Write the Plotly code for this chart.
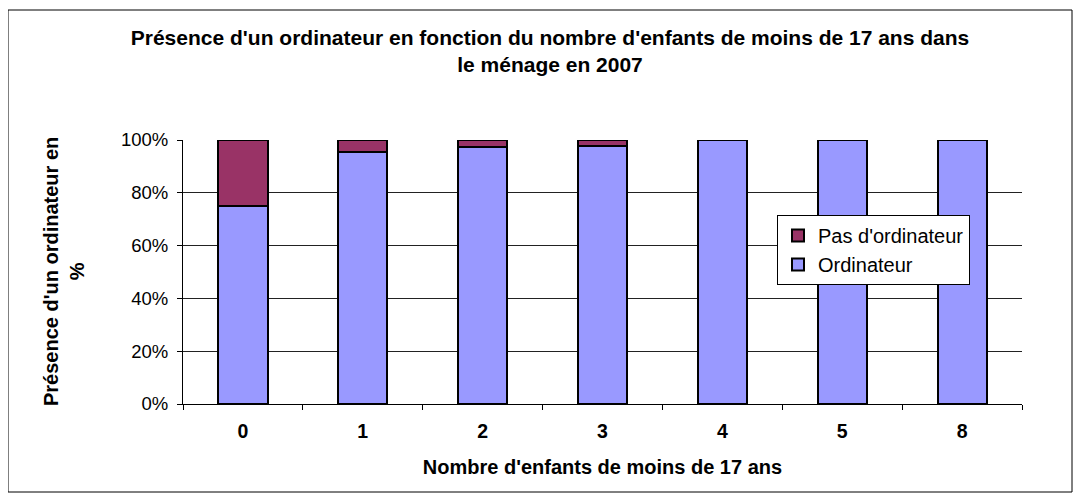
import plotly.graph_objects as go

categories = ["0", "1", "2", "3", "4", "5", "8"]
ordinateur = [75.0, 95.5, 97.5, 97.7, 100.0, 100.0, 100.0]
pas_ordinateur = [25.0, 4.5, 2.5, 2.3, 0.0, 0.0, 0.0]
y_ticks = [0, 20, 40, 60, 80, 100]
y_tick_labels = ["0%", "20%", "40%", "60%", "80%", "100%"]

OFF = 8  # page body margin
W, H = 1081 - OFF, 502 - OFF
L, R, T, B = 183 - OFF, 1022 - OFF, 140 - OFF, 404 - OFF

fig = go.Figure()
fig.add_trace(go.Bar(x=categories, y=ordinateur, name="Ordinateur",
                     marker=dict(color="#9999FF", line=dict(color="black", width=2))))
fig.add_trace(go.Bar(x=categories, y=pas_ordinateur, name="Pas d'ordinateur",
                     marker=dict(color="#993366", line=dict(color="black", width=2))))

font = "Liberation Sans, Arial, sans-serif"
fig.update_layout(
    width=W, height=H,
    margin=dict(l=L, r=W - R, t=T, b=H - B, autoexpand=False),
    paper_bgcolor="white", plot_bgcolor="white",
    barmode="stack", bargap=0.59,
    font=dict(family=font, size=20, color="black"),
    title=dict(text="<b>Présence d'un ordinateur en fonction du nombre d'enfants de moins de 17 ans dans<br>le ménage en 2007</b>",
               x=(550 - OFF) / W, xanchor="center", y=1 - 37 / H, yanchor="top",
               font=dict(size=21)),
    showlegend=True,
    legend=dict(traceorder="reversed", x=(777 - 183) / (R - L), xanchor="left",
                y=(404 - 215) / (B - T), yanchor="top",
                bgcolor="white", bordercolor="black", borderwidth=1,
                font=dict(size=20), itemsizing="constant", tracegroupgap=0),
    xaxis=dict(type="category", tickson="boundaries", ticks="outside", ticklen=5,
               tickcolor="black", showline=True, linecolor="black", linewidth=1,
               tickfont=dict(size=19.5, family=font), ticklabelstandoff=10,
               title=dict(text="<b>Nombre d'enfants de moins de 17 ans</b>",
                          font=dict(size=20), standoff=18)),
    yaxis=dict(range=[0, 100], tickvals=y_ticks, ticktext=y_tick_labels,
               ticks="outside", ticklen=5, tickcolor="black",
               showline=True, linecolor="black", linewidth=1,
               showgrid=True, gridcolor="#222222", gridwidth=1,
               tickfont=dict(size=18.5), zeroline=False, ticklabelstandoff=5),
)
fig.update_xaxes(tickprefix="<b>", ticksuffix="</b>")

fig.add_annotation(text="<b>Présence d'un ordinateur en<br>%</b>",
                   xref="paper", yref="paper", x=(64 - 183) / (R - L), y=0.5,
                   xanchor="center", yanchor="middle", textangle=-90,
                   showarrow=False, font=dict(size=20))

fig.add_shape(type="rect", xref="paper", yref="paper",
              x0=(8 - 183) / (R - L), x1=(1072 - 183) / (R - L),
              y0=(404 - 492) / (B - T), y1=(404 - 10) / (B - T),
              line=dict(color="black", width=1), layer="below")

fig.write_html("out.html")
